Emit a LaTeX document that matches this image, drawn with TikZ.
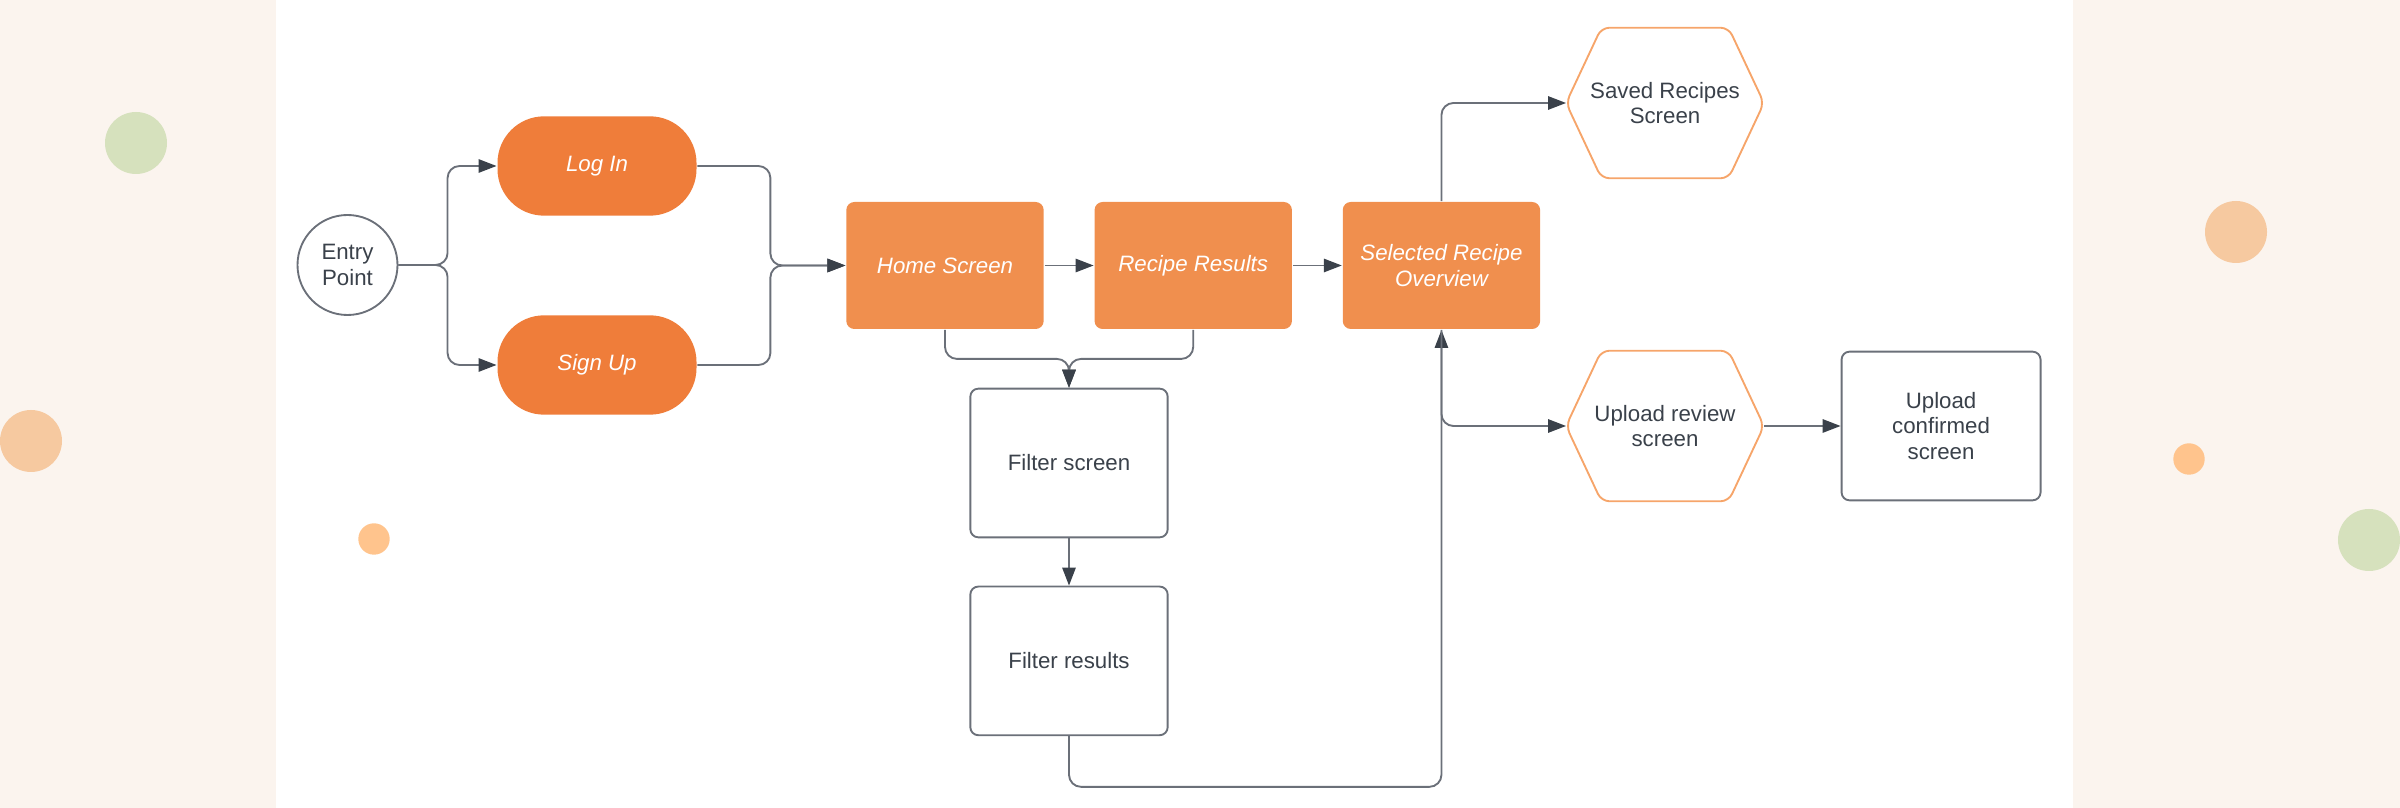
\documentclass[tikz,border=0pt]{standalone}
\usepackage{fontspec}
\setmainfont{Liberation Sans}
\usetikzlibrary{arrows.meta,positioning}
\definecolor{panel}{HTML}{FBF4EE}
\definecolor{deep}{HTML}{EF7D3A}
\definecolor{soft}{HTML}{F08F4E}
\definecolor{hexline}{HTML}{F6A56A}
\definecolor{edge}{HTML}{6B7079}
\definecolor{ink}{HTML}{3A414A}
\definecolor{sage}{HTML}{D6E1BD}
\definecolor{peach}{HTML}{F6C9A0}
\definecolor{apricot}{HTML}{FFC48D}
\tikzset{
    >={Triangle[length=0.27cm,width=0.2cm,color=ink]},
    base/.style={font=\fontsize{9.5}{11}\selectfont, text=ink, align=center,
        inner sep=0pt, line width=0.8pt},
    entrypt/.style={base, circle, draw=edge, minimum size=1.5cm},
    pill/.style={base, rectangle, rounded corners=0.7cm, fill=deep, text=white,
        font=\fontsize{9.5}{11}\selectfont\itshape,
        minimum width=2.985cm, minimum height=1.49cm},
    screen/.style={base, rectangle, rounded corners=0.12cm, fill=soft, text=white,
        font=\fontsize{9.5}{11}\selectfont\itshape,
        minimum width=2.96cm, minimum height=1.905cm},
    card/.style={base, rectangle, rounded corners=0.12cm, draw=edge, fill=white,
        minimum width=2.96cm, minimum height=2.23cm},
    hexa/.style={base, rectangle, minimum width=2.94cm, minimum height=2.23cm},
    hexedge/.style={draw=hexline, line width=0.8pt, rounded corners=0.12cm},
    flow/.style={->, draw=edge, line width=0.8pt, rounded corners=0.18cm},
}
\newcommand{\hexframe}[1]{%
    \draw[hexedge] (#1.west) -- ([xshift=0.53cm]#1.north west)
        -- ([xshift=-0.53cm]#1.north east) -- (#1.east)
        -- ([xshift=-0.53cm]#1.south east) -- ([xshift=0.53cm]#1.south west) -- cycle;}
\begin{document}
\begin{tikzpicture}[x=0.015cm, y=-0.015cm]
    \useasboundingbox (0,0) rectangle (2400,808);
    \fill[panel] (0,0) rectangle (276,808);
    \fill[panel] (2073,0) rectangle (2400,808);
    \fill[sage] (136,143) circle (31);
    \fill[peach] (31,441) circle (31);
    \fill[apricot] (374,539) circle (15.7);
    \fill[peach] (2236,232) circle (31);
    \fill[apricot] (2189,459) circle (15.7);
    \fill[sage] (2369,540) circle (31);

    \node[entrypt] (entry) at (347.5,265) {Entry\\Point};
    \node[pill] (login) at (597,166) {Log In};
    \node[pill] (signup) at (597,365) {Sign Up};
    \node[screen] (home) at (945,265.5) {Home Screen};
    \node[screen, right=0.735cm of home] (results) {Recipe Results};
    \node[screen, right=0.735cm of results] (selected) {Selected Recipe\\Overview};
    \node[card] (fscreen) at (1069,463) {Filter screen};
    \node[card, below=0.71cm of fscreen] (fresults) {Filter results};
    \node[hexa] (saved) at (1665,103) {Saved Recipes\\Screen};
    \node[hexa] (review) at (1665,426) {Upload review\\screen};
    \node[card, minimum width=2.985cm, right=1.15cm of review] (confirmed) {Upload\\confirmed\\screen};
    \hexframe{saved}
    \hexframe{review}

    \draw[flow] (entry.east) -| ([xshift=-0.735cm]login.west) -- (login.west);
    \draw[flow] (entry.east) -| ([xshift=-0.735cm]signup.west) -- (signup.west);
    \draw[flow] (login.east) -| ([xshift=-1.125cm]home.west) -- (home.west);
    \draw[flow] (signup.east) -| ([xshift=-1.125cm]home.west) -- (home.west);
    \draw[flow] (home) -- (results);
    \draw[flow] (results) -- (selected);
    \draw[flow] (home.south) -- ++(0,-0.435cm) -| (fscreen.north);
    \draw[flow] (results.south) -- ++(0,-0.435cm) -| (fscreen.north);
    \draw[flow] (fscreen) -- (fresults);
    \draw[flow] (fresults.south) -- ++(0,-0.76cm) -| (selected.south);
    \draw[flow] (selected.north) |- (saved.west);
    \draw[flow] (selected.south) |- (review.west);
    \draw[flow] (review) -- (confirmed);
\end{tikzpicture}
\end{document}
